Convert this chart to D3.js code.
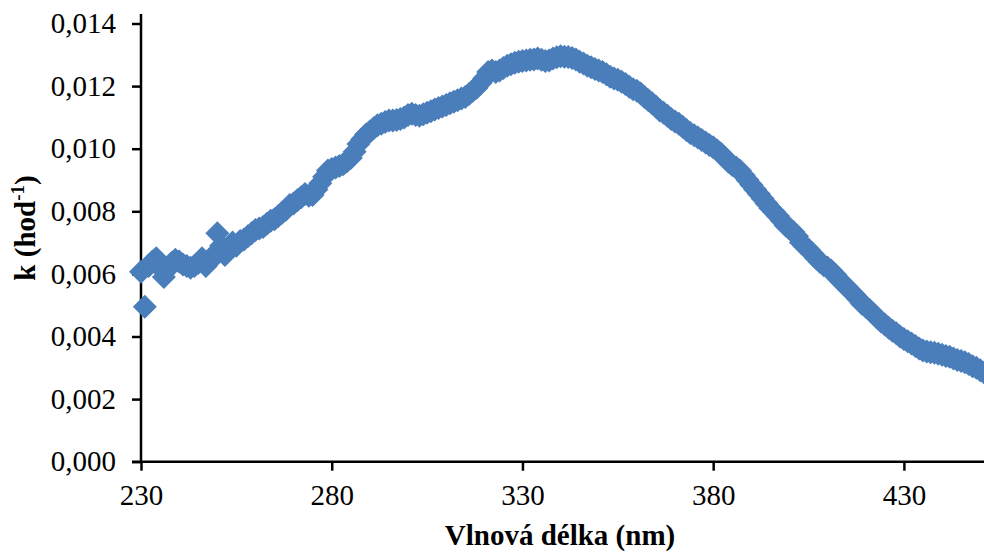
<!DOCTYPE html>
<html>
<head>
<meta charset="utf-8">
<script src="https://cdn.jsdelivr.net/npm/d3@7"></script>
<style>
  html, body { margin: 0; padding: 0; background: #fff; }
  svg { display: block; }
  text { font-family: "Liberation Serif", "Times New Roman", serif; fill: #000; }
</style>
</head>
<body>
<svg id="chart" width="984" height="552"></svg>
<script>
// Wavelengths (nm), one point per nm from 230 to 451
const wavelengths = d3.range(230, 452);

// k (hod^-1) values, one per wavelength
const kValues = [
  0.00607, 0.00495, 0.00625, 0.00640, 0.00650, 0.00620, 0.00590, 0.00615, 0.00635, 0.00645, // 230-239
  0.00640, 0.00630, 0.00625, 0.00620, 0.00625, 0.00635, 0.00650, 0.00625, 0.00640, 0.00660, // 240-249
  0.00730, 0.00690, 0.00660, 0.00680, 0.00700, 0.00690, 0.00705, 0.00710, 0.00720, 0.00730, // 250-259
  0.00740, 0.00745, 0.00750, 0.00760, 0.00770, 0.00775, 0.00785, 0.00795, 0.00805, 0.00820, // 260-269
  0.00825, 0.00835, 0.00845, 0.00855, 0.00850, 0.00852, 0.00870, 0.00890, 0.00910, 0.00930, // 270-279
  0.00935, 0.00940, 0.00945, 0.00950, 0.00960, 0.00970, 0.00990, 0.01015, 0.01030, 0.01045, // 280-289
  0.01055, 0.01065, 0.01075, 0.01080, 0.01085, 0.01090, 0.01090, 0.01092, 0.01095, 0.01100, // 290-299
  0.01108, 0.01112, 0.01108, 0.01105, 0.01110, 0.01115, 0.01120, 0.01125, 0.01130, 0.01135, // 300-309
  0.01140, 0.01145, 0.01150, 0.01155, 0.01160, 0.01165, 0.01175, 0.01185, 0.01195, 0.01210, // 310-319
  0.01225, 0.01245, 0.01250, 0.01245, 0.01250, 0.01258, 0.01265, 0.01270, 0.01275, 0.01278, // 320-329
  0.01280, 0.01282, 0.01284, 0.01285, 0.01288, 0.01284, 0.01280, 0.01282, 0.01288, 0.01292, // 330-339
  0.01295, 0.01294, 0.01293, 0.01290, 0.01285, 0.01278, 0.01272, 0.01265, 0.01260, 0.01255, // 340-349
  0.01250, 0.01245, 0.01238, 0.01230, 0.01224, 0.01220, 0.01214, 0.01207, 0.01198, 0.01190, // 350-359
  0.01185, 0.01176, 0.01165, 0.01155, 0.01145, 0.01135, 0.01122, 0.01115, 0.01105, 0.01095, // 360-369
  0.01087, 0.01080, 0.01070, 0.01060, 0.01050, 0.01043, 0.01036, 0.01028, 0.01020, 0.01012, // 370-379
  0.01005, 0.00995, 0.00985, 0.00972, 0.00958, 0.00948, 0.00940, 0.00930, 0.00915, 0.00900, // 380-389
  0.00885, 0.00870, 0.00855, 0.00840, 0.00825, 0.00810, 0.00798, 0.00785, 0.00770, 0.00755, // 390-399
  0.00745, 0.00735, 0.00720, 0.00700, 0.00688, 0.00678, 0.00665, 0.00650, 0.00638, 0.00628, // 400-409
  0.00620, 0.00610, 0.00597, 0.00582, 0.00570, 0.00558, 0.00545, 0.00533, 0.00520, 0.00505, // 410-419
  0.00495, 0.00485, 0.00473, 0.00460, 0.00448, 0.00438, 0.00428, 0.00418, 0.00410, 0.00400, // 420-429
  0.00392, 0.00385, 0.00378, 0.00370, 0.00362, 0.00355, 0.00352, 0.00350, 0.00348, 0.00345, // 430-439
  0.00342, 0.00338, 0.00335, 0.00330, 0.00325, 0.00322, 0.00318, 0.00312, 0.00305, 0.00300, // 440-449
  0.00292, 0.00285                                                                          // 450-451
];

const xTicks = [230, 280, 330, 380, 430];
const yTicks = [0, 0.002, 0.004, 0.006, 0.008, 0.010, 0.012, 0.014];
const xTitle = "Vlnová délka (nm)";
const yTitleMain = "k (hod";
const yTitleSup = "-1";
const yTitleEnd = ")";

const svg = d3.select("#chart");
const W = 984, H = 552;

const x = d3.scaleLinear().domain([230, 451]).range([141, 984]);
const y = d3.scaleLinear().domain([0, 0.014]).range([461.7, 23.5]);

const fmt = v => d3.format(".3f")(v).replace(".", ",");

// Y axis
const yAxis = svg.append("g")
  .attr("transform", `translate(${x(230)},0)`)
  .call(d3.axisLeft(y).tickValues(yTicks).tickFormat(fmt).tickSize(9).tickPadding(16));
yAxis.select(".domain").remove();
yAxis.append("line").attr("x1", 0).attr("x2", 0).attr("y1", y(0)).attr("y2", 14)
  .attr("stroke", "#000").attr("stroke-width", 2.5);
yAxis.selectAll(".tick line").attr("stroke", "#000").attr("stroke-width", 2.5);
yAxis.selectAll(".tick text").attr("font-size", 29).attr("font-family", "Liberation Serif").attr("fill", "#000");

// X axis
const xAxis = svg.append("g")
  .attr("transform", `translate(0,${y(0)})`)
  .call(d3.axisBottom(x).tickValues(xTicks).tickFormat(d3.format("d")).tickSize(9).tickPadding(14));
xAxis.select(".domain").remove();
xAxis.append("line").attr("x1", x(230) - 9).attr("x2", W).attr("y1", 0).attr("y2", 0)
  .attr("stroke", "#000").attr("stroke-width", 2.5);
xAxis.selectAll(".tick line").attr("stroke", "#000").attr("stroke-width", 2.5);
xAxis.selectAll(".tick text").attr("font-size", 29).attr("font-family", "Liberation Serif").attr("fill", "#000");

// Axis titles
svg.append("text")
  .attr("x", 560).attr("y", 545)
  .attr("text-anchor", "middle")
  .attr("font-size", 29).attr("font-weight", "bold")
  .text(xTitle);

const yt = svg.append("text")
  .attr("transform", "translate(35,228) rotate(-90)")
  .attr("text-anchor", "middle")
  .attr("font-size", 29).attr("font-weight", "bold");
yt.append("tspan").text(yTitleMain);
yt.append("tspan").attr("font-size", 19).attr("dy", -11).text(yTitleSup);
yt.append("tspan").attr("dy", 11).text(yTitleEnd);

// Markers (diamonds)
const data = wavelengths.map((w, i) => ({ w, k: kValues[i] }));
const r = 12;
const diamond = `M0,${-r}L${r},0L0,${r}L${-r},0Z`;
svg.append("g")
  .selectAll("path")
  .data(data)
  .join("path")
  .attr("d", diamond)
  .attr("transform", d => `translate(${x(d.w)},${y(d.k)})`)
  .attr("fill", "#4a7ebb");
</script>
</body>
</html>
